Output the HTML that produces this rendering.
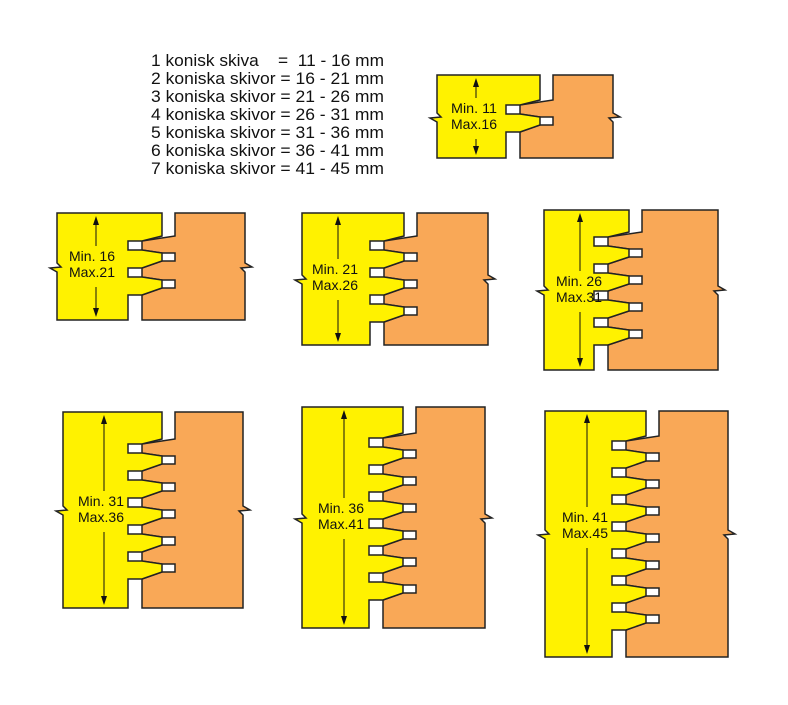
<!DOCTYPE html>
<html><head><meta charset="utf-8"><style>
html,body{margin:0;padding:0;background:#fff;}
svg{display:block;}
text{font-family:"Liberation Sans",sans-serif;fill:#111;}
</style></head><body>
<svg id="s" width="788" height="705" viewBox="0 0 788 705" xmlns="http://www.w3.org/2000/svg">
<g id="shapes"></g>
<g font-size="16.5">
<text x="151" y="66" textLength="233" lengthAdjust="spacingAndGlyphs" xml:space="preserve">1 konisk skiva    =  11 - 16 mm</text>
<text x="151" y="84" textLength="233" lengthAdjust="spacingAndGlyphs">2 koniska skivor = 16 - 21 mm</text>
<text x="151" y="102" textLength="233" lengthAdjust="spacingAndGlyphs">3 koniska skivor = 21 - 26 mm</text>
<text x="151" y="120" textLength="233" lengthAdjust="spacingAndGlyphs">4 koniska skivor = 26 - 31 mm</text>
<text x="151" y="138" textLength="233" lengthAdjust="spacingAndGlyphs">5 koniska skivor = 31 - 36 mm</text>
<text x="151" y="156" textLength="233" lengthAdjust="spacingAndGlyphs">6 koniska skivor = 36 - 41 mm</text>
<text x="151" y="174" textLength="233" lengthAdjust="spacingAndGlyphs">7 koniska skivor = 41 - 45 mm</text>
</g>
<g id="labels" font-size="14"></g>
</svg>
<script>
var D=[
 {n:1,yl:437,top:75,bot:158,Ob:553,Oa:520,r:613,ys:105,ax:476,tx:451,ty:113,t:["Min. 11","Max.16"]},
 {n:2,yl:57,top:213,bot:320,Ob:175,Oa:142,r:245,ys:241,ax:96,tx:69,ty:261,t:["Min. 16","Max.21"]},
 {n:3,yl:302,top:213,bot:345,Ob:417,Oa:384,r:488,ys:241,ax:338,tx:312,ty:274,t:["Min. 21","Max.26"]},
 {n:4,yl:544,top:210,bot:370,Ob:642,Oa:608,r:718,ys:237,ax:580,tx:556,ty:286,t:["Min. 26","Max.31"]},
 {n:5,yl:63,top:412,bot:608,Ob:175,Oa:142,r:243,ys:444,ax:104,tx:78,ty:506,t:["Min. 31","Max.36"]},
 {n:6,yl:302,top:407,bot:628,Ob:416,Oa:383,r:485,ys:438,ax:344,tx:318,ty:513,t:["Min. 36","Max.41"]},
 {n:7,yl:545,top:411,bot:657,Ob:659,Oa:626,r:728,ys:441,ax:587,tx:562,ty:522,t:["Min. 41","Max.45"]}
];
var out="",lab="";
D.forEach(function(d){
 var P=27;
 var O=[[d.Ob,d.top],[d.Ob,d.ys-5],[d.Oa,d.ys]];
 var Y=[[d.Ob-13,d.top],[d.Ob-13,d.ys-5],[d.Oa,d.ys]];
 for(var k=0;k<d.n;k++){
  var y=d.ys+k*P;
  O.push([d.Oa,y+9],[d.Ob-13,y+12],[d.Ob,y+12],[d.Ob,y+20],[d.Ob-13,y+20],[d.Oa,y+P]);
  Y.push([d.Oa-14,y],[d.Oa-14,y+9],[d.Oa,y+9],[d.Ob-13,y+12],[d.Ob-13,y+20],[d.Oa,y+P]);
 }
 var ye=d.ys+d.n*P;
 O.push([d.Oa,d.bot]);
 Y.push([d.Oa-14,ye],[d.Oa-14,d.bot]);
 var m=Math.round((d.top+d.bot)/2);
 var R=[[d.r,d.top],[d.r,m-4],[d.r+7,m],[d.r-4,m+1],[d.r,m+5],[d.r,d.bot]];
 var op=R.concat(O.slice().reverse());
 var Lz=[[d.yl,d.bot],[d.yl,m+5],[d.yl-7,m+1],[d.yl+4,m],[d.yl,m-4],[d.yl,d.top]];
 var yp=Y.concat(Lz);
 function s(a){return a.map(function(p){return p[0]+","+p[1];}).join(" ");}
 out+='<polygon points="'+s(op)+'" fill="#F9A857" stroke="#222" stroke-width="1.5"/>';
 out+='<polygon points="'+s(yp)+'" fill="#FFF200" stroke="#222" stroke-width="1.5"/>';
 var a=d.ax,t=d.top+3,b=d.bot-3;
 out+='<line x1="'+a+'" y1="'+(t+6)+'" x2="'+a+'" y2="'+(d.ty-15)+'" stroke="#111" stroke-width="1"/>';
 out+='<line x1="'+a+'" y1="'+(d.ty+26)+'" x2="'+a+'" y2="'+(b-6)+'" stroke="#111" stroke-width="1"/>';
 out+='<polygon points="'+a+','+t+' '+(a-3)+','+(t+9)+' '+(a+3)+','+(t+9)+'" fill="#111"/>';
 out+='<polygon points="'+a+','+b+' '+(a-3)+','+(b-9)+' '+(a+3)+','+(b-9)+'" fill="#111"/>';
});
document.getElementById("shapes").innerHTML=out;
</script>
<script>
(function(){
 var g=document.getElementById("labels"),h="";
 D.forEach(function(d){
  h+='<text x="'+d.tx+'" y="'+d.ty+'" textLength="46" lengthAdjust="spacingAndGlyphs">'+d.t[0]+'</text>';
  h+='<text x="'+d.tx+'" y="'+(d.ty+16)+'" textLength="46" lengthAdjust="spacingAndGlyphs">'+d.t[1]+'</text>';
 });
 g.innerHTML=h;
})();
</script>
</body></html>
